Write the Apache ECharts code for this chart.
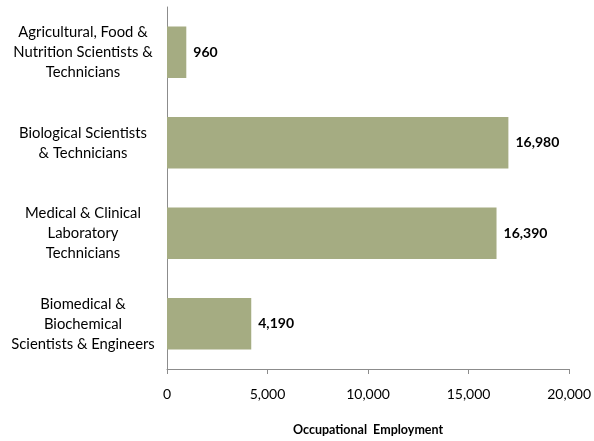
<!DOCTYPE html>
<html>
<head>
<meta charset="utf-8">
<script src="https://cdn.jsdelivr.net/npm/echarts@6/dist/echarts.min.js"></script>
<style>html,body{margin:0;padding:0;background:#fff;}#c{width:594px;height:441px;}</style>
</head>
<body>
<div id="c"></div>
<script>
const categories = [
  'Agricultural, Food &\nNutrition Scientists &\nTechnicians',
  'Biological Scientists\n& Technicians',
  'Medical & Clinical\nLaboratory\nTechnicians',
  'Biomedical &\nBiochemical\nScientists & Engineers'
];
const employment = [960, 16980, 16390, 4190];
const xTicks = { min: 0, max: 20000, interval: 5000 };
const axisTitle = 'Occupational  Employment';

const fmt = v => v.toLocaleString('en-US');
const chart = echarts.init(document.getElementById('c'), null, {renderer: 'canvas'});
chart.setOption({
  animation: false,
  backgroundColor: '#fff',
  grid: { left: 167, right: 23, top: 7, bottom: 66 },
  xAxis: {
    type: 'value', min: xTicks.min, max: xTicks.max, interval: xTicks.interval,
    name: axisTitle, nameLocation: 'middle', nameGap: 54,
    nameTextStyle: { fontFamily: 'Lato', fontWeight: 'bold', fontSize: 12.5, color: '#000' },
    axisLine: { show: true, lineStyle: { color: '#8c8c8c' } },
    axisTick: { show: true, length: 5, lineStyle: { color: '#8c8c8c' } },
    splitLine: { show: false },
    axisLabel: { formatter: v => fmt(v), fontFamily: 'Lato', fontSize: 14, color: '#000', margin: 18 }
  },
  yAxis: {
    type: 'category', data: categories, inverse: true,
    axisLine: { show: true, lineStyle: { color: '#8c8c8c' } },
    axisTick: { show: false },
    axisLabel: { fontFamily: 'Lato', fontSize: 14.8, color: '#000', align: 'center', margin: 84, lineHeight: 20 }
  },
  series: [{
    type: 'bar', data: employment, barWidth: '57%',
    itemStyle: { color: '#a5ac82' },
    label: { show: true, position: 'right', distance: 7, formatter: p => fmt(p.value),
      fontFamily: 'Lato', fontWeight: 'bold', fontSize: 14, color: '#000' }
  }]
});
</script>
</body>
</html>
